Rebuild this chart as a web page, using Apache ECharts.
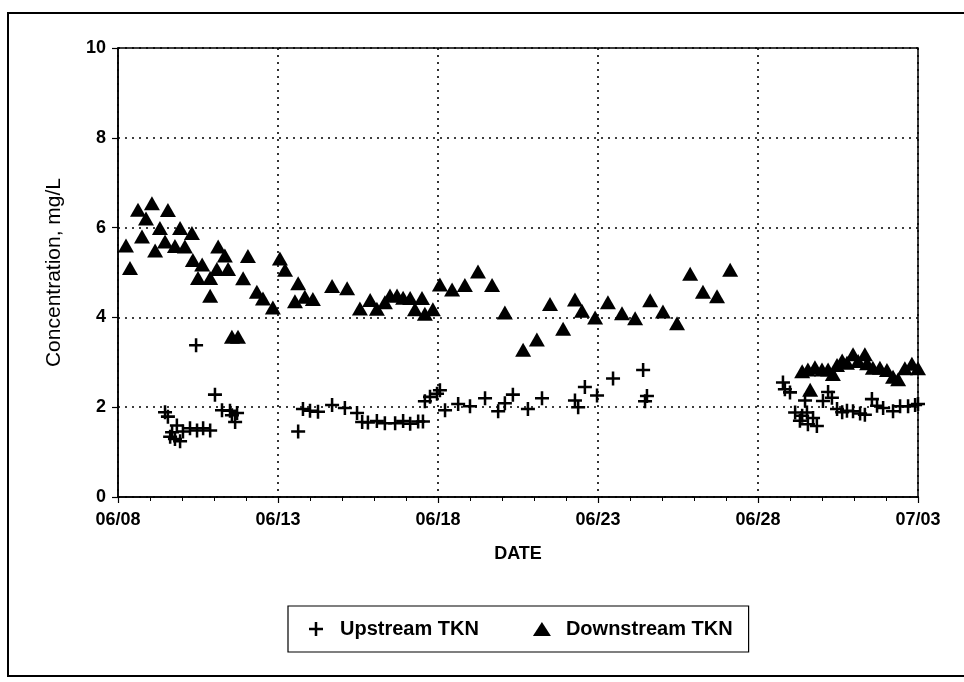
<!DOCTYPE html>
<html>
<head>
<meta charset="utf-8">
<script src="https://cdn.jsdelivr.net/npm/echarts@6/dist/echarts.min.js"></script>
<style>
html,body{margin:0;padding:0;background:#fff;}
#chart{width:964px;height:682px;}
</style>
</head>
<body>
<div id="chart"></div>
<script>
// x = days after 06/08
var xTickLabels = ['06/08','06/13','06/18','06/23','06/28','07/03'];
var upDays = [1.47,1.56,1.63,1.69,1.78,1.84,1.94,2.03,2.25,2.44,2.47,2.66,2.88,3.03,3.25,3.5,3.56,3.66,3.72,
  5.63,5.78,6.0,6.25,6.69,7.09,7.47,7.63,7.81,8.09,8.34,8.66,8.91,9.13,9.38,9.53,9.59,9.75,9.97,10.06,10.22,
  10.63,11.0,11.47,11.88,12.09,12.34,12.81,13.25,14.28,14.38,14.59,14.97,15.47,16.41,16.47,16.53,
  20.78,20.84,21.0,21.16,21.31,21.38,21.47,21.53,21.56,21.72,21.84,22.03,22.19,22.31,22.47,22.63,22.78,22.97,
  23.19,23.34,23.56,23.72,23.91,24.22,24.44,24.69,24.91,25.0];
var upValues = [1.89,1.79,1.34,1.44,1.29,1.59,1.24,1.46,1.53,3.38,1.48,1.53,1.48,2.28,1.93,1.92,1.82,1.67,1.87,
  1.46,1.96,1.92,1.9,2.05,1.98,1.87,1.67,1.66,1.69,1.64,1.64,1.69,1.63,1.68,1.68,2.13,2.23,2.3,2.38,1.93,
  2.07,2.02,2.2,1.91,2.09,2.28,1.96,2.2,2.15,2.0,2.45,2.26,2.64,2.83,2.13,2.25,
  2.55,2.4,2.33,1.88,1.7,1.81,2.15,1.88,1.62,1.76,1.58,2.14,2.34,2.21,1.96,1.89,1.92,1.91,
  1.86,1.83,2.18,2.03,1.98,1.91,2.02,2.02,2.05,2.07];
var downDays = [0.25,0.375,0.625,0.75,0.875,1.06,1.16,1.31,1.47,1.56,1.78,1.94,2.09,2.31,2.34,2.5,2.63,2.88,2.88,
  3.09,3.13,3.34,3.44,3.56,3.75,3.91,4.06,4.34,4.53,4.84,5.06,5.22,5.53,5.63,5.84,6.09,6.69,7.16,7.56,7.88,
  8.09,8.34,8.5,8.72,8.91,9.13,9.28,9.5,9.59,9.84,10.06,10.44,10.84,11.25,11.69,12.09,12.66,13.09,13.5,13.91,
  14.28,14.5,14.91,15.31,15.75,16.16,16.63,17.03,17.47,17.88,18.28,18.72,19.13,
  21.38,21.56,21.63,21.78,22.0,22.19,22.34,22.47,22.63,22.78,22.97,23.13,23.34,23.41,23.59,23.81,24.03,24.22,
  24.38,24.59,24.81,25.0];
var downValues = [5.6,5.1,6.4,5.8,6.2,6.54,5.49,5.99,5.69,6.39,5.59,5.99,5.58,5.88,5.28,4.88,5.18,4.88,4.48,
  5.08,5.58,5.38,5.08,3.57,3.57,4.87,5.37,4.57,4.42,4.22,5.31,5.06,4.36,4.76,4.46,4.41,4.7,4.65,4.2,4.39,
  4.19,4.34,4.49,4.49,4.44,4.43,4.18,4.43,4.08,4.18,4.73,4.62,4.72,5.02,4.72,4.11,3.28,3.51,4.3,3.75,
  4.4,4.15,4.0,4.34,4.09,3.98,4.38,4.13,3.87,4.97,4.57,4.47,5.06,
  2.8,2.84,2.39,2.89,2.84,2.84,2.74,2.94,3.04,2.99,3.18,3.03,3.18,2.98,2.88,2.88,2.83,2.68,
  2.62,2.87,2.97,2.87];
var seriesNames = ['Upstream TKN','Downstream TKN'];

function pairs(xs, ys){ return xs.map(function(x,i){ return [x, ys[i]]; }); }

var crossPath = 'path://M4.1,0H5.9V4.1H10V5.9H5.9V10H4.1V5.9H0V4.1H4.1Z';
var FONT = '"Liberation Sans", Arial, sans-serif';

var chart = echarts.init(document.getElementById('chart'), null, {renderer:'canvas'});
chart.setOption({
  backgroundColor:'#fff',
  animation:false,
  graphic:[{type:'rect', shape:{x:8,y:13,width:970,height:663}, style:{fill:'none', stroke:'#000', lineWidth:2}, silent:true, z:-1}],
  grid:{left:118, right:46, top:48, bottom:185, show:true, borderColor:'#000', borderWidth:1.5, backgroundColor:'transparent'},
  xAxis:{type:'value', min:0, max:25, interval:5,
    name:'DATE', nameLocation:'middle', nameGap:48,
    nameTextStyle:{fontFamily:FONT, fontWeight:'bold', fontSize:18, color:'#000'},
    axisLine:{show:true, lineStyle:{color:'#000', width:1.5}},
    axisTick:{show:true, length:6, lineStyle:{color:'#000', width:1.2}},
    minorTick:{show:true, splitNumber:5, length:4, lineStyle:{color:'#000', width:1}},
    axisLabel:{margin:14, fontFamily:FONT, fontWeight:'bold', fontSize:18, color:'#000',
      formatter:function(v){ return xTickLabels[Math.round(v/5)]; }},
    splitLine:{show:true, lineStyle:{color:'#000', type:[2,5], width:1.6}}
  },
  yAxis:{type:'value', min:0, max:10, interval:2,
    name:'Concentration, mg/L', nameLocation:'middle', nameGap:53, nameRotate:90,
    nameTextStyle:{fontFamily:FONT, fontSize:21, color:'#000'},
    axisLine:{show:true, lineStyle:{color:'#000', width:1.5}},
    axisTick:{show:true, length:6, lineStyle:{color:'#000', width:1.2}},
    axisLabel:{margin:12, fontFamily:FONT, fontWeight:'bold', fontSize:18, color:'#000'},
    splitLine:{show:true, lineStyle:{color:'#000', type:[2,5], width:1.6}}
  },
  legend:{left:288, top:606, orient:'horizontal', itemGap:54, itemWidth:18, itemHeight:14,
    padding:[13,16,13,21], borderColor:'#000', borderWidth:1.2,
    textStyle:{fontFamily:FONT, fontWeight:'bold', fontSize:20, color:'#000', padding:[0,0,0,10]},
    data:seriesNames},
  series:[
    {name:seriesNames[0], type:'scatter', symbol:crossPath, symbolSize:14,
     itemStyle:{color:'#000', opacity:1}, data:pairs(upDays, upValues), z:3},
    {name:seriesNames[1], type:'scatter', symbol:'triangle', symbolSize:[16,14],
     itemStyle:{color:'#000', opacity:1}, data:pairs(downDays, downValues), z:2}
  ]
});
</script>
</body>
</html>
